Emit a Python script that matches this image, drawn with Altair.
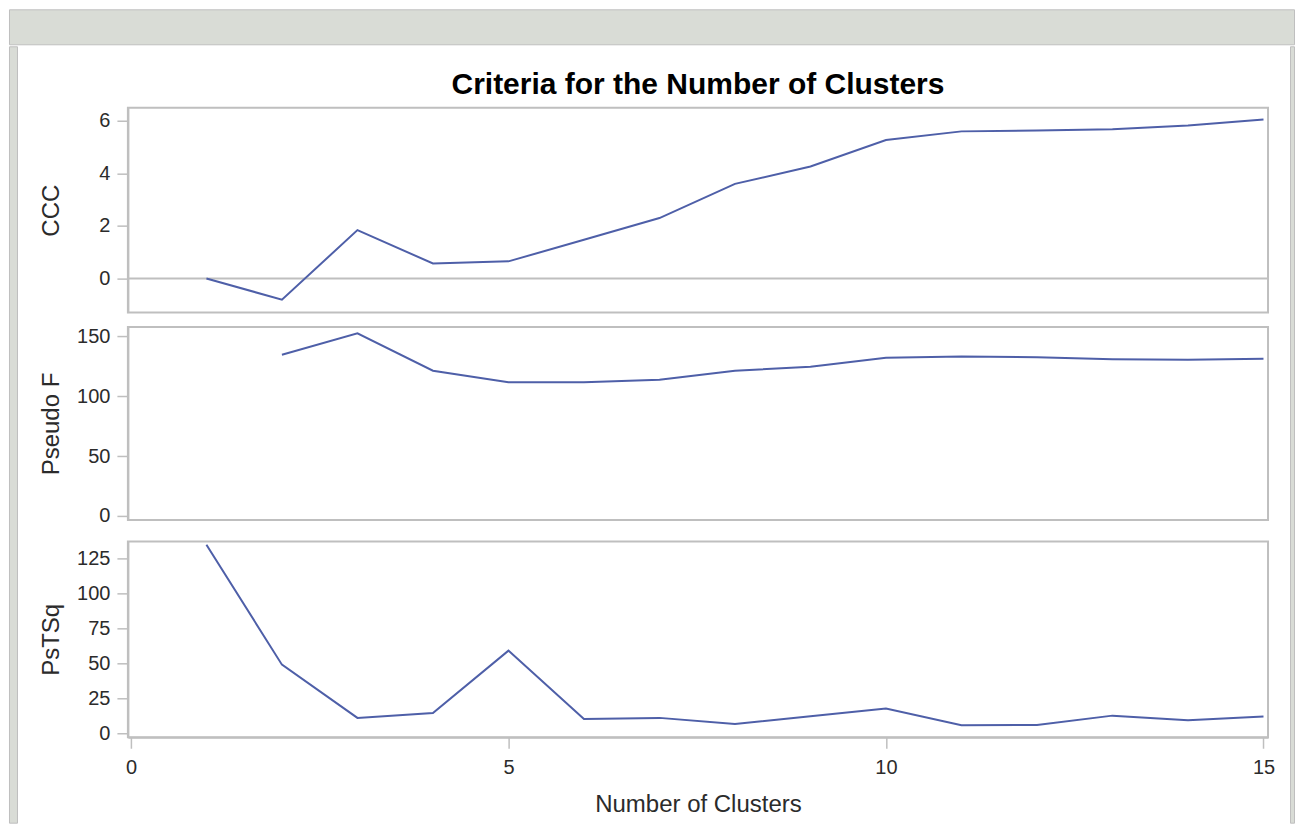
import altair as alt
import pandas as pd

# ---------------- data ----------------
clusters = list(range(1, 16))
ccc = [0.0, -0.81, 1.84, 0.57, 0.65, 1.47, 2.30, 3.60, 4.26, 5.27, 5.60, 5.63, 5.68, 5.82, 6.05]
pseudo_f = [None, 134.7, 152.5, 121.3, 111.7, 111.7, 113.7, 121.3, 124.6, 132.2, 133.3, 132.5, 130.9, 130.6, 131.4]
pstsq = [134.5, 49.1, 11.2, 14.7, 59.1, 10.4, 11.2, 6.9, 12.4, 17.8, 5.9, 6.2, 12.8, 9.5, 12.1]

x_ticks = [0, 5, 10, 15]
ccc_ticks = [0, 2, 4, 6]
pf_ticks = [0, 50, 100, 150]
pstsq_ticks = [0, 25, 50, 75, 100, 125]
ccc_ref = [0]

title_text = "Criteria for the Number of Clusters"
x_title = "Number of Clusters"
y_titles = ["CCC", "Pseudo F", "PsTSq"]

# ---------------- styling ----------------
FONT = "Liberation Sans"
LINE = "#4e5fa8"
FRAME = "#bfbfbf"
GRAYBG = "#d9dcd6"
TEXT = "#2b2b2b"
PW = 1141

x_scale = alt.Scale(domain=[-0.04, 15.06], nice=False, zero=False)


def y_axis(title, ticks):
    return alt.Axis(
        title=title, values=ticks, grid=False,
        tickSize=11, tickColor=FRAME, tickWidth=1.5,
        domainColor=FRAME, domainWidth=2,
        labelPadding=7, labelFontSize=20, labelFont=FONT, labelColor=TEXT,
        titleFont=FONT, titleFontSize=24, titleFontWeight="normal", titleColor=TEXT,
        titlePadding=12, minExtent=52, maxExtent=52,
    )


x_axis = alt.Axis(
    title=x_title, values=x_ticks, grid=False,
    tickSize=11, tickColor=FRAME, tickWidth=1.5,
    domainColor=FRAME, domainWidth=2,
    labelPadding=9, labelFontSize=20, labelFont=FONT, labelColor=TEXT,
    titleFont=FONT, titleFontSize=24, titleFontWeight="normal", titleColor=TEXT,
    titlePadding=15,
)

panel_view = alt.ViewBackground(stroke=FRAME, strokeWidth=2)

# ---------------- panel 1: CCC ----------------
df_ccc = pd.DataFrame({"k": clusters, "v": ccc})
df_ref = pd.DataFrame({"v": ccc_ref})
ccc_y = alt.Scale(domain=[-1.3, 6.5], nice=False, zero=False)

p1_ref = alt.Chart(df_ref).mark_rule(color=FRAME, strokeWidth=2).encode(
    y=alt.Y("v:Q", scale=ccc_y, axis=y_axis(y_titles[0], ccc_ticks))
)
p1_line = alt.Chart(df_ccc).mark_line(color=LINE, strokeWidth=2).encode(
    x=alt.X("k:Q", scale=x_scale, axis=None),
    y=alt.Y("v:Q", scale=ccc_y, axis=y_axis(y_titles[0], ccc_ticks)),
)
p1 = alt.layer(p1_ref, p1_line).properties(
    width=PW, height=205, view=panel_view,
    title=alt.TitleParams(title_text, fontSize=30, font=FONT, fontWeight="bold",
                          color="black", anchor="middle", frame="group", offset=8),
)

# ---------------- panel 2: Pseudo F ----------------
df_pf = pd.DataFrame({"k": clusters, "v": pseudo_f}).dropna()
p2 = alt.Chart(df_pf).mark_line(color=LINE, strokeWidth=2).encode(
    x=alt.X("k:Q", scale=x_scale, axis=None),
    y=alt.Y("v:Q", scale=alt.Scale(domain=[-3.3, 157.8], nice=False, zero=False),
            axis=y_axis(y_titles[1], pf_ticks)),
).properties(width=PW, height=193, view=panel_view)

# ---------------- panel 3: PsTSq ----------------
df_ps = pd.DataFrame({"k": clusters, "v": pstsq})
p3 = alt.Chart(df_ps).mark_line(color=LINE, strokeWidth=2).encode(
    x=alt.X("k:Q", scale=x_scale, axis=x_axis),
    y=alt.Y("v:Q", scale=alt.Scale(domain=[-2.6, 136.9], nice=False, zero=False),
            axis=y_axis(y_titles[2], pstsq_ticks)),
).properties(width=PW, height=196, view=panel_view)

# ---------------- frame decoration (view fills only) ----------------
anchor = pd.DataFrame({"a": [0]})


def blank(w, h, gray):
    ch = alt.Chart(anchor).mark_point(opacity=0, size=0).encode(
        x=alt.X("a:Q", axis=None), y=alt.Y("a:Q", axis=None)
    )
    if gray:
        view = alt.ViewBackground(fill=GRAYBG, stroke=FRAME, strokeWidth=1)
    else:
        view = alt.ViewBackground(strokeWidth=0)
    return ch.properties(width=w, height=h, view=view)


spacer = blank(10, 10.5, False)
band = blank(1286, 35, True)
left_strip = blank(8, 777, True)
right_strip = blank(4, 777, True)

inner = alt.vconcat(spacer, p1, p2, p3, spacing=11.5)
left_part = alt.hconcat(left_strip, inner, spacing=21)
row = alt.hconcat(left_part, right_strip, spacing=13)

chart = alt.vconcat(band, row, spacing=0).properties(
    padding=0
).configure_view(strokeWidth=0).configure(background="white")

chart.save("out.html", embed_options={"renderer": "svg", "actions": False})
